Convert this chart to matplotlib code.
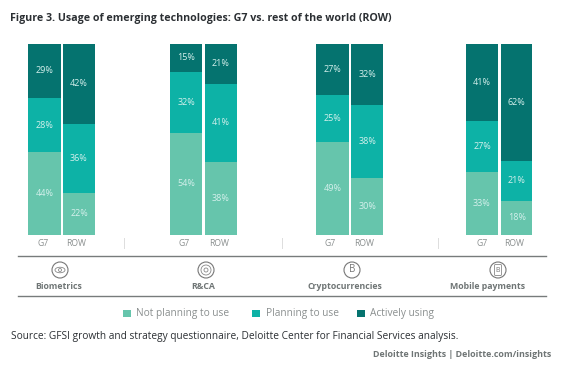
import numpy as np
import matplotlib
matplotlib.use('Agg')
import matplotlib.pyplot as plt
from matplotlib.patches import Circle, Ellipse, Rectangle, FancyBboxPatch

plt.rcParams['font.family'] = ['Open Sans', 'DejaVu Sans']

techs = ['Biometrics', 'R&CA', 'Cryptocurrencies', 'Mobile payments']
groups = ['G7', 'ROW']
series = ['Not planning to use', 'Planning to use', 'Actively using']
colors = ['#66C5AC', '#0DB2A6', '#05736F']

not_planning = [44, 22, 54, 38, 49, 30, 33, 18]
planning = [28, 36, 32, 41, 25, 38, 27, 21]
actively = [29, 42, 15, 21, 27, 32, 41, 62]

title = 'Figure 3. Usage of emerging technologies: G7 vs. rest of the world (ROW)'
source = 'Source: GFSI growth and strategy questionnaire, Deloitte Center for Financial Services analysis.'
credit = 'Deloitte Insights | Deloitte.com/insights'

# layout, in pixels
bar_left = np.array([28.3, 63.3, 170, 205, 316.3, 351.3, 466, 501])
bar_right = np.array([61, 94.7, 202.3, 236.7, 349, 383, 498, 532.3])
label_x = [43, 76, 184, 219, 330, 364, 482, 514]
icon_x = [60, 206, 352, 498]
name_x = [59, 203, 345, 488]

W, H = 566, 372
fig = plt.figure(figsize=(W/100, H/100), dpi=100)

# pixel overlay for rules, icons, text
bg = fig.add_axes([0, 0, 1, 1])
bg.set_xlim(0, W)
bg.set_ylim(H, 0)
bg.axis('off')

# bars, y is percent of each stack
top, bottom = 43.5, 235
ax = fig.add_axes([0, 1-bottom/H, 1, (bottom-top)/H])
ax.set_xlim(0, W)
ax.set_ylim(0, 100)
ax.axis('off')
ax.patch.set_alpha(0)

vals = np.array([not_planning, planning, actively], dtype=float)
shares = vals/vals.sum(axis=0)*100
x = (bar_left+bar_right)/2
width = bar_right-bar_left
base = np.zeros(len(x))
for i in range(3):
    ax.bar(x, shares[i], width, bottom=base, color=colors[i], linewidth=0)
    for j in range(len(x)):
        ax.text(x[j], base[j]+shares[i][j]/2, '%d%%' % vals[i][j], ha='center', va='center',
                fontsize=6.5, color='#D5F0EC')
    base += shares[i]

for j in range(len(x)):
    bg.text(label_x[j], 244, groups[j % 2], ha='center', va='center', fontsize=6.2, color='#8A8F8F')

for px in [123.5, 282, 438]:
    bg.plot([px, px], [238, 248], color='#DDDDDD', lw=0.7)
for py in [255.7, 296.3]:
    bg.plot([18, 546], [py, py], color='#777B7B', lw=1.0)

# icons
for cx, nx, tech in zip(icon_x, name_x, techs):
    bg.add_patch(Circle((cx, 270), 8, fc='none', ec='#777777', lw=0.8))
    bg.text(nx, 286.7, tech, ha='center', va='center', fontsize=6.3, fontweight='bold', color='#6F7575')
bg.add_patch(Ellipse((60, 270), 10, 5.5, fc='none', ec='#888888', lw=0.6))
bg.add_patch(Circle((60, 270), 1.5, fc='none', ec='#888888', lw=0.6))
bg.add_patch(Circle((206, 270), 5, fc='none', ec='#888888', lw=0.6))
bg.add_patch(Circle((206, 270), 2, fc='none', ec='#888888', lw=0.6))
bg.text(352, 270, 'B', ha='center', va='center', fontsize=7, color='#777777')
bg.add_patch(FancyBboxPatch((494.5, 264.5), 7, 11, boxstyle='round,pad=0,rounding_size=1',
                            fc='none', ec='#888888', lw=0.6))
bg.text(498, 270, 'B', ha='center', va='center', fontsize=5, color='#777777')

# legend
leg_x = [123, 252, 357]
for lx, name, c in zip(leg_x, series, colors):
    bg.add_patch(Rectangle((lx, 310), 8, 7, fc=c, ec='none'))
    bg.text(lx+13.5, 313.5, name, ha='left', va='center', fontsize=7.3, color='#8A8F8F')

bg.text(10, 18.5, title, ha='left', va='center', fontsize=7.65, fontweight='bold', color='#2B2F33')
bg.text(11, 336, source, ha='left', va='center', fontsize=7.3, color='#2B2F33')
bg.text(551, 354.3, credit, ha='right', va='center', fontsize=6.4, fontweight='bold', color='#6F7575')

fig.savefig('out.png', dpi=100)
